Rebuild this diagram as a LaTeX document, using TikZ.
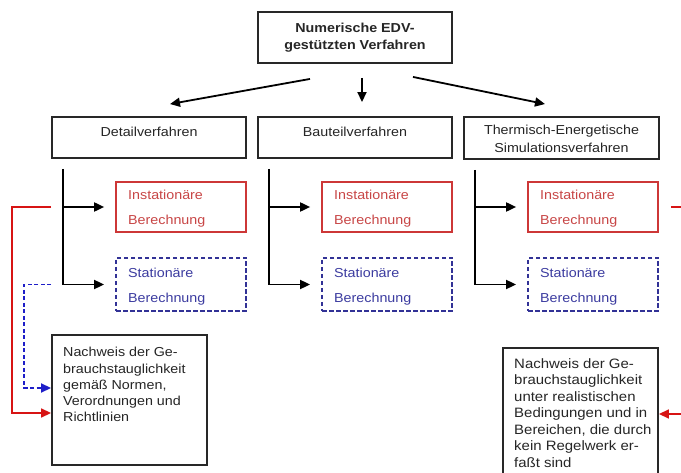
\documentclass[tikz,border=0pt]{standalone}
\usepackage{fontspec}
\setmainfont{Liberation Sans}[FakeStretch=1.1]
\usetikzlibrary{arrows.meta,calc}
\definecolor{rline}{RGB}{205,55,55}
\definecolor{rtext}{RGB}{200,70,70}
\definecolor{bline}{RGB}{50,50,150}
\definecolor{btext}{RGB}{60,60,160}
\definecolor{rarrow}{RGB}{215,20,20}
\definecolor{barrow}{RGB}{30,30,200}
\definecolor{frame}{RGB}{40,40,40}
\begin{document}
\begin{tikzpicture}[x=1pt,y=-1pt,
  box/.style={draw=frame,line width=1.9pt,inner sep=0pt},
  ibox/.style={draw=rline,line width=1.7pt,inner sep=0pt},
  sbox/.style={draw=bline,line width=1.8pt,dash pattern=on 4.5pt off 2.5pt,inner sep=0pt},
  ctxt/.style={inner sep=0pt,align=center,anchor=north,text=black!85},
  ltxt/.style={inner sep=0pt,align=left,anchor=north west,text=black!85,font=\fontsize{13}{16.2}\selectfont},
  itxt/.style={inner sep=0pt,align=left,anchor=north west,text=rtext,font=\fontsize{13}{25}\selectfont},
  stxt/.style={inner sep=0pt,align=left,anchor=north west,text=btext,font=\fontsize{13}{24.5}\selectfont},
  tip/.style={-{Triangle[length=10pt,width=9pt]}},
  arr/.style={tip,line width=1.8pt,draw=black},
  rarr/.style={tip,line width=1.7pt,draw=rarrow},
  barr/.style={tip,line width=1.8pt,draw=barrow,dash pattern=on 4pt off 2.5pt}
]
\fill[white] (0,0) rectangle (681,473);
\useasboundingbox (0,0) rectangle (681,473);
\clip (0,0) rectangle (681,473);

% top
\node[box,minimum width=194pt,minimum height=51pt] (top) at (355,37.5) {};
\node[ctxt,font=\bfseries\fontsize{13}{17}\selectfont] (toptxt) at (355,23.3) {Numerische EDV-\\gestützten Verfahren};

% second row
\node[box,minimum width=194pt,minimum height=41pt] (r1) at (149,137.5) {};
\node[box,minimum width=194pt,minimum height=41pt] (r2) at (355,137.5) {};
\node[box,minimum width=195pt,minimum height=42pt] (r3) at (561.5,138) {};
\node[ctxt,font=\fontsize{13}{18}\selectfont] (r1txt) at (149,127.3) {Detailverfahren};
\node[ctxt,font=\fontsize{13}{18}\selectfont] (r2txt) at (355,127.3) {Bauteilverfahren};
\node[ctxt,font=\fontsize{13}{18}\selectfont] (r3txt) at (561.5,125.3) {Thermisch-Energetische\\Simulationsverfahren};

% top arrows
\draw[arr] ($(top.south)+(-45,15)$) -- ($(r1.north)+(21,-12)$);
\draw[arr] ($(top.south)+(7,14)$) -- ($(r2.north)+(7,-14)$);
\draw[arr] ($(top.south)+(58,13)$) -- ($(r3.north)+(-16.5,-12)$);

% columns
\foreach \k/\xl in {1/116,2/322,3/528}{
  \node[ibox,minimum width=130pt,minimum height=50pt] (i\k) at (\xl+65,207) {};
  \node[sbox,minimum width=130pt,minimum height=53pt] (s\k) at (\xl+65,284.5) {};
  \node[itxt] (i\k txt) at (\xl+12,190.3) {Instationäre\\Berechnung};
  \node[stxt] (s\k txt) at (\xl+12,268.3) {Stationäre\\Berechnung};
  \coordinate (v\k) at ($(r\k.south west)+(12,10)$);
  \draw[arr,shorten >=11pt] (v\k) |- (s\k.west);
  \draw[arr,shorten >=11pt] (v\k |- i\k.west) -- (i\k.west);
}

% bottom boxes
\node[box,minimum width=155pt,minimum height=130pt] (bl) at (129.5,400) {};
\node[ltxt] (bltxt) at (63,347.3) {Nachweis der Ge-\\brauchstauglichkeit\\gemäß Normen,\\Verordnungen und\\Richtlinien};
\node[box,minimum width=155pt,minimum height=142pt] (br) at (580.5,419) {};
\node[ltxt,font=\fontsize{13.6}{16.5}\selectfont] (brtxt) at (514,358.3) {Nachweis der Ge-\\brauchstauglichkeit\\unter realistischen\\Bedingungen und in\\Bereichen, die durch\\kein Regelwerk er-\\faßt sind};

% feedback connectors
\draw[rarr] ($(i1.west)+(-64,0)$) -- ++(-39,0) |- ($(bl.west)+(0,13)$);
\draw[barr] ($(s1.west)+(-64,0)$) -- ++(-27,0) |- ($(bl.west)+(0,-12)$);
\draw[rarr] ($(i3.east)+(12,0)$) -- ++(25,0) |- ($(br.east)+(0,-5)$);
\end{tikzpicture}
\end{document}
